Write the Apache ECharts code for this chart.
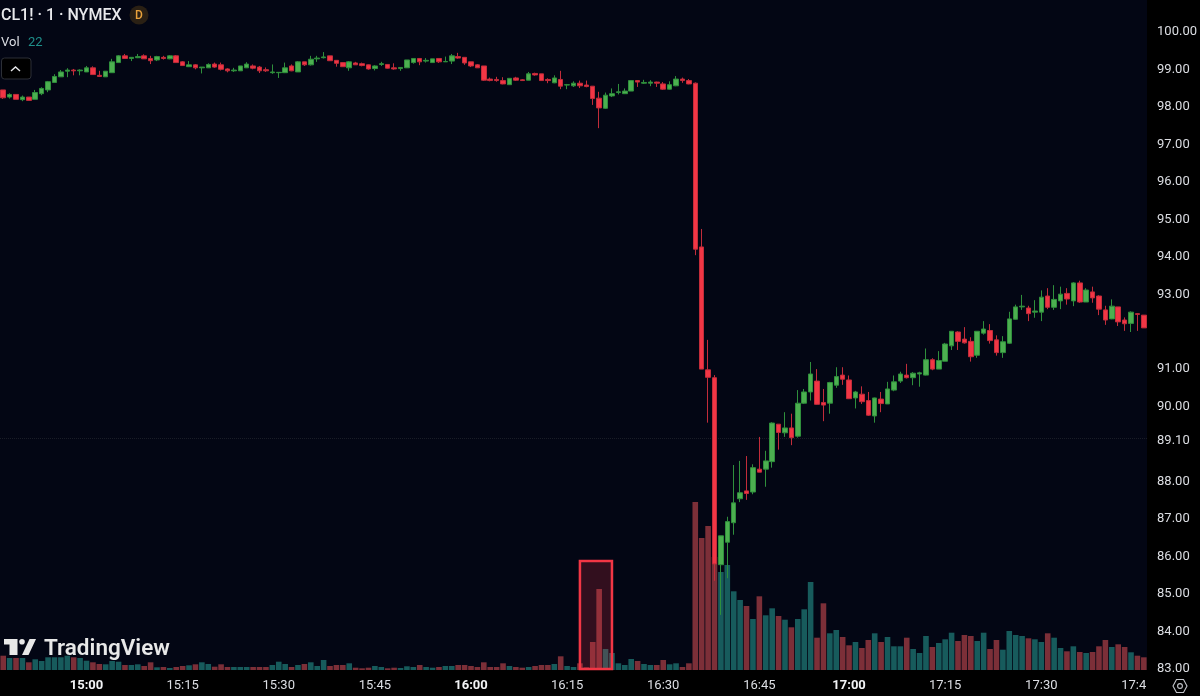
<!DOCTYPE html>
<html>
<head>
<meta charset="utf-8">
<style>html,body{margin:0;padding:0;background:#000}#c{width:1200px;height:696px}</style>
<script src="https://cdn.jsdelivr.net/npm/echarts@6/dist/echarts.min.js"></script>
</head>
<body>
<div id="c"></div>
<script>
const times = [
"14:47","14:48","14:49","14:50","14:51","14:52","14:53","14:54","14:55","14:56","14:57","14:58","14:59",
"15:00","15:01","15:02","15:03","15:04","15:05","15:06","15:07","15:08","15:09","15:10","15:11","15:12","15:13","15:14",
"15:15","15:16","15:17","15:18","15:19","15:20","15:21","15:22","15:23","15:24","15:25","15:26","15:27","15:28","15:29",
"15:30","15:31","15:32","15:33","15:34","15:35","15:36","15:37","15:38","15:39","15:40","15:41","15:42","15:43","15:44",
"15:45","15:46","15:47","15:48","15:49","15:50","15:51","15:52","15:53","15:54","15:55","15:56","15:57","15:58","15:59",
"16:00","16:01","16:02","16:03","16:04","16:05","16:06","16:07","16:08","16:09","16:10","16:11","16:12","16:13","16:14",
"16:15","16:16","16:17","16:18","16:19","16:20","16:21","16:22","16:23","16:24","16:25","16:26","16:27","16:28","16:29",
"16:30","16:31","16:32","16:33","16:34","16:35","16:36","16:37","16:38","16:39","16:40","16:41","16:42","16:43","16:44",
"16:45","16:46","16:47","16:48","16:49","16:50","16:51","16:52","16:53","16:54","16:55","16:56","16:57","16:58",
"17:00","17:01","17:02","17:03","17:04","17:05","17:06","17:07","17:08","17:09","17:10","17:11","17:12","17:13","17:14",
"17:15","17:16","17:17","17:18","17:19","17:20","17:21","17:22","17:23","17:24","17:25","17:26","17:27","17:28","17:29",
"17:30","17:31","17:32","17:33","17:34","17:35","17:36","17:37","17:38","17:39","17:40","17:41","17:42","17:43","17:44",
"17:45","17:46"
];
const timeTicks = ["15:00","15:15","15:30","15:45","16:00","16:15","16:30","16:45","17:00","17:15","17:30","17:45"];
const boldTicks = ["15:00","16:00","17:00"];
const priceTicks = [83,84,85,86,87,88,89.10,90,91,93,94,95,96,97,98,99,100];
const lastPrice = 89.10;

// [open, close, low, high]
const ohlc = [
[98.40,98.19,98.16,98.40],[98.21,98.28,98.17,98.31],[98.28,98.15,98.15,98.28],[98.14,98.21,98.10,98.25],[98.21,98.12,98.12,98.21],
[98.15,98.33,98.15,98.40],[98.30,98.44,98.26,98.47],[98.40,98.62,98.34,98.64],[98.60,98.76,98.60,98.82],[98.75,98.88,98.75,98.93],
[98.90,98.93,98.74,98.98],[98.93,98.91,98.79,98.96],[98.91,98.93,98.79,98.95],[98.88,98.99,98.88,99.04],[98.99,98.81,98.81,99.03],
[98.79,98.76,98.75,98.91],[98.75,98.90,98.75,98.90],[98.86,99.15,98.86,99.23],[99.13,99.31,99.13,99.33],[99.31,99.24,99.24,99.36],
[99.24,99.27,99.17,99.27],[99.26,99.29,99.25,99.36],[99.31,99.23,99.23,99.35],[99.24,99.18,99.09,99.31],[99.20,99.29,99.17,99.31],
[99.27,99.24,99.21,99.31],[99.23,99.31,99.22,99.33],[99.31,99.13,99.13,99.33],[99.15,99.05,99.04,99.17],[99.02,99.07,99.01,99.17],
[99.07,98.99,98.95,99.09],[98.99,99.01,98.84,99.01],[98.99,99.08,98.99,99.11],[99.09,99.01,98.99,99.13],[99.07,98.95,98.92,99.13],
[98.96,98.91,98.87,98.98],[98.91,98.93,98.88,98.99],[98.91,99.04,98.91,99.04],[98.99,99.09,98.99,99.14],[99.04,98.98,98.95,99.08],
[99.01,98.91,98.85,99.04],[98.94,98.91,98.88,99.00],[98.86,98.88,98.83,99.08],[98.86,98.87,98.72,98.87],[98.86,98.99,98.85,99.13],
[99.04,98.91,98.90,99.08],[98.88,99.15,98.88,99.17],[99.15,99.07,99.04,99.15],[99.07,99.22,99.05,99.31],[99.23,99.25,99.15,99.31],
[99.26,99.28,99.24,99.41],[99.31,99.18,99.18,99.31],[99.19,99.11,99.02,99.19],[99.13,99.02,99.02,99.13],[98.99,99.15,98.91,99.17],
[99.12,99.07,99.07,99.15],[99.10,99.05,99.03,99.13],[99.07,98.96,98.94,99.08],[98.97,99.04,98.92,99.06],[99.08,99.10,99.04,99.15],
[99.08,98.98,98.97,99.08],[98.99,98.96,98.94,99.11],[98.97,99.00,98.91,99.00],[98.99,99.20,98.99,99.20],[99.13,99.24,99.10,99.24],
[99.24,99.15,99.06,99.24],[99.17,99.19,99.13,99.25],[99.13,99.23,99.13,99.23],[99.24,99.15,99.12,99.24],[99.15,99.16,99.15,99.29],
[99.17,99.31,99.09,99.36],[99.29,99.25,99.23,99.39],[99.27,99.12,99.07,99.27],[99.15,99.04,99.01,99.15],[99.07,98.99,98.99,99.09],
[99.04,98.66,98.64,99.04],[98.69,98.65,98.63,98.73],[98.68,98.65,98.62,98.75],[98.65,98.56,98.55,98.74],[98.54,98.71,98.54,98.71],
[98.72,98.66,98.64,98.75],[98.67,98.65,98.64,98.69],[98.66,98.83,98.66,98.88],[98.84,98.80,98.78,98.86],[98.83,98.65,98.65,98.83],
[98.68,98.65,98.58,98.71],[98.59,98.72,98.58,98.79],[98.68,98.50,98.42,98.91],[98.53,98.54,98.42,98.56],[98.51,98.58,98.48,98.63],
[98.58,98.51,98.45,98.65],[98.53,98.49,98.47,98.65],[98.50,98.17,98.00,98.50],[98.18,97.92,97.38,98.35],[97.91,98.26,97.89,98.33],
[98.24,98.30,98.21,98.44],[98.33,98.35,98.28,98.56],[98.30,98.37,98.29,98.44],[98.37,98.65,98.37,98.65],[98.65,98.61,98.48,98.65],
[98.58,98.60,98.56,98.67],[98.58,98.61,98.50,98.66],[98.61,98.58,98.48,98.62],[98.56,98.42,98.40,98.61],[98.42,98.54,98.41,98.63],
[98.51,98.69,98.50,98.77],[98.69,98.65,98.59,98.73],[98.65,98.56,98.55,98.69],[98.58,94.15,93.99,98.60],[94.21,90.95,90.95,94.69],
[90.93,90.73,89.52,91.73],[90.72,85.75,85.30,90.79],[85.73,86.50,84.39,86.50],[86.33,86.88,85.37,87.01],[86.85,87.38,86.53,88.39],
[87.49,87.65,87.40,88.50],[87.70,87.63,87.46,88.63],[87.67,88.32,87.61,88.41],[88.28,88.20,88.20,89.14],[88.28,88.50,87.81,88.77],
[88.48,89.51,88.32,89.53],[89.48,89.26,88.80,89.48],[89.25,89.38,89.14,89.80],[89.38,89.12,88.92,89.76],[89.16,90.04,89.12,90.39],
[90.04,90.34,90.02,90.42],[90.34,90.82,90.11,91.14],[90.63,90.01,90.00,90.95],[90.06,89.99,89.56,90.42],[90.04,90.59,89.76,90.61],
[90.52,90.75,90.45,91.00],[90.79,90.68,90.53,91.00],[90.66,90.16,90.15,90.78],[90.18,90.34,89.90,90.37],[90.28,90.08,90.02,90.49],
[90.11,89.72,89.70,90.34],[89.70,90.18,89.52,90.19],[90.15,90.03,89.80,90.34],[90.02,90.42,90.02,90.61],[90.39,90.61,90.36,90.78],
[90.63,90.82,90.58,90.88],[90.79,90.72,90.70,91.09],[90.72,90.84,90.52,90.87],[90.82,90.85,90.48,90.88],[90.79,91.20,90.78,91.50],
[91.20,90.95,90.92,91.24],[90.95,91.18,90.95,91.43],[91.16,91.62,91.16,91.65],[91.57,91.96,91.46,91.96],[91.94,91.69,91.46,91.96],
[91.75,91.65,91.63,92.07],[91.69,91.28,91.15,91.80],[91.32,91.96,91.25,91.96],[91.91,92.02,91.87,92.23],[91.98,91.71,91.63,92.15],
[91.73,91.39,91.31,91.85],[91.39,91.68,91.25,91.83],[91.64,92.29,91.62,92.48],[92.28,92.61,92.27,92.67],[92.61,92.63,92.53,92.93],
[92.58,92.43,92.23,92.64],[92.47,92.50,92.32,92.79],[92.47,92.87,92.23,93.05],[92.90,92.60,92.55,93.11],[92.60,92.81,92.53,93.19],
[92.77,92.95,92.55,93.15],[92.97,92.82,92.67,93.11],[92.77,93.25,92.63,93.27],[93.25,92.74,92.72,93.31],[92.74,93.06,92.74,93.11],
[93.01,92.85,92.72,93.15],[92.90,92.55,92.39,92.92],[92.53,92.26,92.13,92.64],[92.29,92.63,92.28,92.81],[92.61,92.21,92.10,92.61],
[92.26,92.16,91.97,92.33],[92.17,92.47,91.94,92.49],[92.43,92.41,91.97,92.44],[92.39,92.05,92.05,92.39]
];

const volume = [
14.3,12,12,12,7.7,10.7,9,12.7,12.7,12.7,14.3,12.7,12,9.3,7.7,6,5.7,9,8.3,5,
5,5.7,4,7.7,2.7,3,2,3,4,4.7,5.7,7.7,6,3.3,5.7,3,3,3,3,3,
3,3,5,8.3,6,3,5,6,7.7,4,10,4,5,5,6.7,2.3,1.7,2.3,4,3,
1.7,2.3,2,3.7,3,5,3,2.3,3,4,4,5,5,4,3,7.7,3,3,6.7,4,
3,2.3,3,4,5,5,6,13.7,4,3,6.7,2.7,28,81,21,17,6.7,5,11,9,
6,5,5,10,5.7,6.7,3,6.7,168,132,144,113,98,105,78.7,70,64,51,73.7,54.7,
61.7,54,50.3,42.7,51,60.7,88,32.3,66.7,36.7,40,33,24.7,28,22,30,36.7,28,33,23.7,
23.7,32.3,21,17,34,23,27,30.7,37.3,29,35,34,29,37.3,21,30,20.3,39,35,34,
31.7,30.7,28,36.7,32.3,22,18.7,23.7,18,17,18,23.7,30,23,25.7,23,17.7,14.3,12.7
];

const highlightBars = [90, 95];
const highlightPrices = [85.83, 82.95];

const UP = '#4caf50', DOWN = '#f23645';
const UP_EDGE = '#2f8f3c', DOWN_EDGE = '#c22c3a';
const UP_VOL = '#175b5c', DOWN_VOL = '#7c2f38';
const FONT = 'Roboto, "Noto Sans", sans-serif';
const TEXT = '#dcdee3';

const volumeData = volume.map((v, i) => ({
  value: v,
  itemStyle: {
    color: ohlc[i][1] >= ohlc[i][0] ? UP_VOL : DOWN_VOL
  }
}));

const chart = echarts.init(document.getElementById('c'), null, {renderer: 'canvas', width: 1200, height: 696});
chart.setOption({
  animation: false,
  backgroundColor: '#000000',
  grid: {left: -0.8, right: 50, top: 0, bottom: 26, show: true, backgroundColor: '#030614', borderWidth: 0},
  tooltip: {show: false},
  xAxis: {
    type: 'category',
    data: times,
    boundaryGap: true,
    axisLine: {show: false},
    axisTick: {show: false, interval: 0},
    splitLine: {show: false},
    axisLabel: {
      interval: (i, v) => timeTicks.includes(v),
      hideOverlap: false,
      margin: 9,
      fontFamily: FONT,
      fontSize: 13,
      color: TEXT,
      formatter: v => boldTicks.includes(v) ? '{b|' + v + '}' : v,
      rich: {b: {fontFamily: FONT, fontSize: 13, fontWeight: 700, color: '#f2f3f5'}}
    }
  },
  yAxis: [
    {
      type: 'value',
      position: 'right',
      min: 82.92,
      max: 100.80,
      axisLine: {show: false},
      axisTick: {show: false},
      splitLine: {show: false},
      axisLabel: {
        customValues: priceTicks,
        margin: 10,
        align: 'left',
        fontFamily: FONT,
        fontSize: 13,
        color: TEXT,
        formatter: v => '{p|' + v.toFixed(2) + '}',
        rich: {p: {fontFamily: FONT, fontSize: 13, color: TEXT, padding: [4, 0, 0, 0]}}
      }
    },
    {type: 'value', min: 0, max: 670, show: false}
  ],
  series: [
    {
      type: 'bar',
      name: 'Vol',
      yAxisIndex: 1,
      data: volumeData,
      barWidth: 5.6,
      z: 2,
      silent: true
    },
    {
      type: 'candlestick',
      name: 'CL1!',
      data: ohlc,
      barWidth: 5,
      z: 5,
      silent: true,
      itemStyle: {color: UP, color0: DOWN, borderColor: UP_EDGE, borderColor0: DOWN_EDGE, borderWidth: 1},
      markLine: {
        silent: true,
        symbol: 'none',
        label: {show: false},
        lineStyle: {type: 'dotted', color: '#1a1d27', width: 1},
        data: [{yAxis: lastPrice}]
      },
      markArea: {
        silent: true,
        z: 3,
        itemStyle: {color: 'rgba(242,54,69,0.2)', borderColor: DOWN, borderWidth: 2.5},
        data: [[
          {xAxis: highlightBars[0], yAxis: highlightPrices[0]},
          {xAxis: highlightBars[1], yAxis: highlightPrices[1]}
        ]]
      }
    }
  ],
  graphic: [
    {type: 'rect', z: 100, shape: {x: 1147, y: 672, width: 53, height: 24}, style: {fill: '#000'}},
    {type: 'polygon', z: 101, shape: {points: [[1173,686],[1176.5,679.5],[1183.5,679.5],[1187,686],[1183.5,692.5],[1176.5,692.5]]}, style: {fill: 'none', stroke: '#c4c6cc', lineWidth: 1.1}},
    {type: 'circle', z: 101, shape: {cx: 1180, cy: 686, r: 2.4}, style: {fill: 'none', stroke: '#c4c6cc', lineWidth: 1.1}},

    {type: 'text', z: 100, x: 1, y: 8, style: {text: 'CL1! · 1 · NYMEX', fontFamily: FONT, fontSize: 16, fontWeight: 500, fill: '#e8e9ec'}},
    {type: 'circle', z: 100, shape: {cx: 139, cy: 15, r: 9.5}, style: {fill: '#2a2014'}},
    {type: 'text', z: 101, x: 139, y: 15.5, style: {text: 'D', align: 'center', verticalAlign: 'middle', fontFamily: FONT, fontSize: 12, fontWeight: 500, fill: '#e9a23b'}},
    {type: 'text', z: 100, x: 1, y: 36, style: {text: 'Vol', fontFamily: FONT, fontSize: 13, fill: TEXT}},
    {type: 'text', z: 100, x: 28, y: 36, style: {text: '22', fontFamily: FONT, fontSize: 13, fill: '#1f8f8a'}},
    {type: 'rect', z: 100, shape: {x: 1.5, y: 58, width: 29.5, height: 21, r: 3}, style: {fill: '#000', stroke: '#2c2f36', lineWidth: 1}},
    {type: 'polyline', z: 101, shape: {points: [[11,71],[15.5,67],[20,71]]}, style: {fill: 'none', stroke: '#e8e9ec', lineWidth: 1.4}},

    {type: 'polygon', z: 100, shape: {points: [[4,639],[17.5,639],[17.5,655],[9.5,655],[9.5,644.5],[4,644.5]]}, style: {fill: '#e8e8e8'}},
    {type: 'circle', z: 100, shape: {cx: 22, cy: 641.8, r: 2.8}, style: {fill: '#e8e8e8'}},
    {type: 'polygon', z: 100, shape: {points: [[29.5,639],[36,639],[28.5,655],[22,655]]}, style: {fill: '#e8e8e8'}},
    {type: 'text', z: 100, x: 44, y: 638, style: {text: 'TradingView', fontFamily: FONT, fontSize: 22.5, fontWeight: 600, fill: '#e8e8e8'}}
  ]
});
</script>
</body>
</html>
